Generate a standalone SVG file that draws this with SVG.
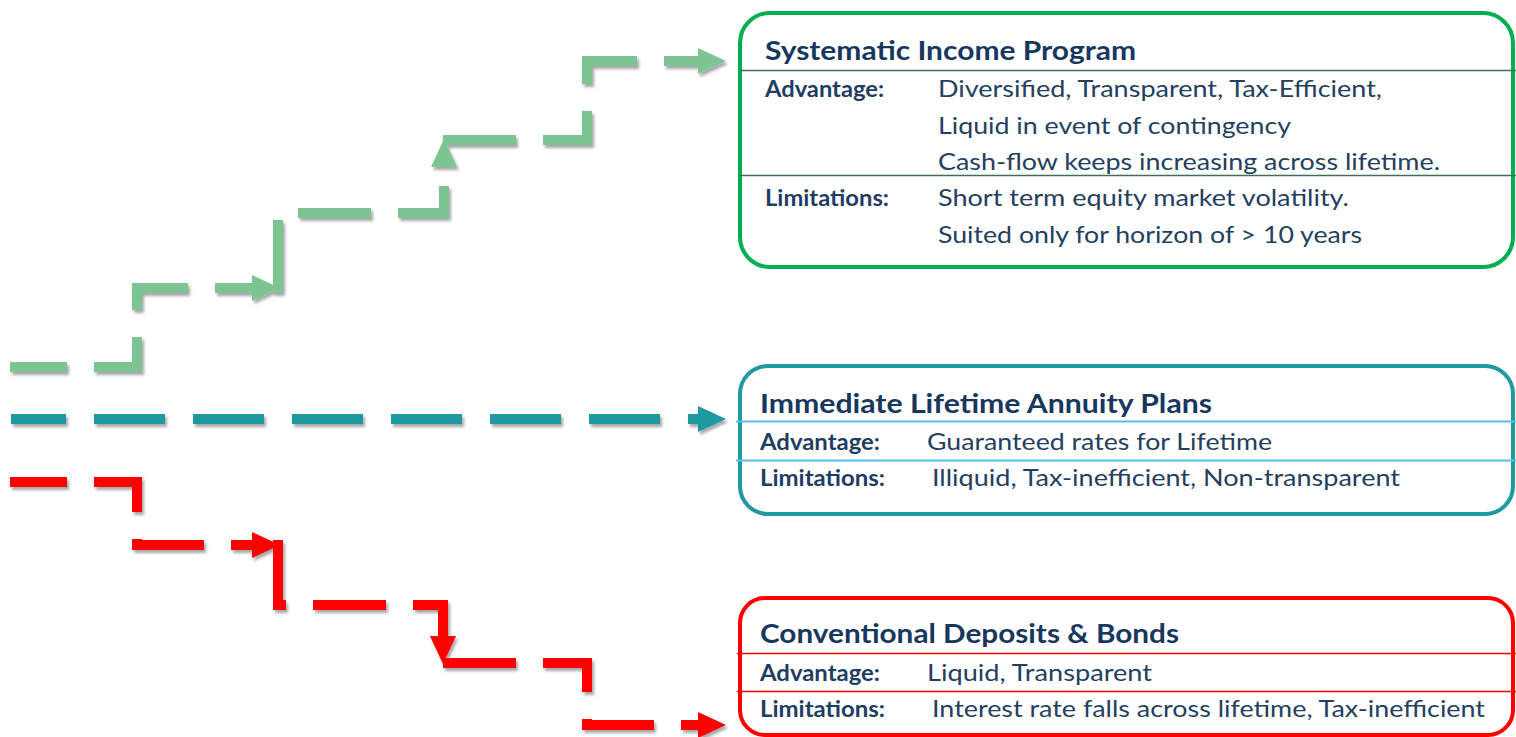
<svg xmlns="http://www.w3.org/2000/svg" width="1516" height="737" viewBox="0 0 1516 737">
  <style>
    .title { font-family: Lato, "Liberation Sans", sans-serif; font-weight: 700; font-size: 26px; fill: #17375E; }
    .label { font-family: Lato, "Liberation Sans", sans-serif; font-weight: 700; font-size: 23px; fill: #1F3D63; }
    .body  { font-family: Lato, "Liberation Sans", sans-serif; font-weight: 400; font-size: 24px; fill: #243F60; }
    .conn  { fill: none; stroke-width: 10; stroke-linecap: butt; stroke-linejoin: miter; }
    .green { stroke: #7CC492; stroke-dasharray: 73 27; }
    .teal  { stroke: #1F9AA0; stroke-dasharray: 71 28; }
    .red   { stroke: #FF0000; stroke-dasharray: 73 27; }
    .lead  { stroke-dashoffset: 16; }
    .box   { fill: #FFFFFF; stroke-width: 4; }
  </style>
  <defs>
    <filter id="shadow" filterUnits="userSpaceOnUse" x="-20" y="-20" width="1560" height="780">
      <feDropShadow dx="2" dy="3" stdDeviation="1.5" flood-color="#000000" flood-opacity="0.35"/>
    </filter>
    <marker id="arrow-green" markerUnits="userSpaceOnUse" markerWidth="28" markerHeight="26" refX="0" refY="13" orient="auto">
      <path d="M0,0 L28,13 L0,26 z" fill="#7CC492"/>
    </marker>
    <marker id="arrow-teal" markerUnits="userSpaceOnUse" markerWidth="28" markerHeight="26" refX="0" refY="13" orient="auto">
      <path d="M0,0 L28,13 L0,26 z" fill="#1F9AA0"/>
    </marker>
    <marker id="arrow-red" markerUnits="userSpaceOnUse" markerWidth="28" markerHeight="26" refX="0" refY="13" orient="auto">
      <path d="M0,0 L28,13 L0,26 z" fill="#FF0000"/>
    </marker>
  </defs>

  <rect width="1516" height="737" fill="#FFFFFF"/>

  <!-- stepped dashed connectors -->
  <g id="connectors" filter="url(#shadow)">
    <path class="conn green lead" d="M 10 367 H 137 V 288 H 252" marker-end="url(#arrow-green)"/>
    <path class="conn green" d="M 278 293 V 213 H 444 V 167" marker-end="url(#arrow-green)"/>
    <path class="conn green" d="M 443 140 H 587 V 61 H 698" marker-end="url(#arrow-green)"/>

    <path class="conn teal lead" d="M 11 419 H 698" marker-end="url(#arrow-teal)"/>

    <path class="conn red lead" d="M 10 482 H 137 V 545 H 252" marker-end="url(#arrow-red)"/>
    <path class="conn red" d="M 278 540 V 605 H 443 V 636" marker-end="url(#arrow-red)"/>
    <path class="conn red" d="M 443 663 H 587 V 725 H 698" marker-end="url(#arrow-red)"/>
  </g>

  <!-- Systematic Income Program -->
  <g id="node-systematic">
    <rect class="box" x="740" y="13" width="773" height="254" rx="30" ry="30" stroke="#00B050"/>
    <line x1="740" y1="70.5" x2="1516" y2="70.5" stroke="#3E6E56" stroke-width="1.6"/>
    <line x1="740" y1="175.5" x2="1516" y2="175.5" stroke="#3E6E56" stroke-width="1.6"/>
    <text class="title" x="765" y="60" textLength="371" lengthAdjust="spacingAndGlyphs">Systematic Income Program</text>
    <text class="label" x="765" y="97" textLength="119" lengthAdjust="spacingAndGlyphs">Advantage:</text>
    <text class="body" x="938" y="97" textLength="444" lengthAdjust="spacingAndGlyphs">Diversified, Transparent, Tax-Efficient,</text>
    <text class="body" x="938" y="134" textLength="353" lengthAdjust="spacingAndGlyphs">Liquid in event of contingency</text>
    <text class="body" x="938" y="170" textLength="502" lengthAdjust="spacingAndGlyphs">Cash-flow keeps increasing across lifetime.</text>
    <text class="label" x="765" y="206" textLength="124" lengthAdjust="spacingAndGlyphs">Limitations:</text>
    <text class="body" x="938" y="206" textLength="411" lengthAdjust="spacingAndGlyphs">Short term equity market volatility.</text>
    <text class="body" x="938" y="243" textLength="424" lengthAdjust="spacingAndGlyphs">Suited only for horizon of &gt; 10 years</text>
  </g>

  <!-- Immediate Lifetime Annuity Plans -->
  <g id="node-annuity">
    <rect class="box" x="740" y="366" width="773" height="148" rx="28" ry="28" stroke="#1F9AA0"/>
    <line x1="736" y1="421.5" x2="1516" y2="421.5" stroke="#56C0EE" stroke-width="2"/>
    <line x1="736" y1="460.5" x2="1516" y2="460.5" stroke="#56C0EE" stroke-width="2"/>
    <text class="title" x="760" y="413" textLength="452" lengthAdjust="spacingAndGlyphs">Immediate Lifetime Annuity Plans</text>
    <text class="label" x="760" y="450" textLength="120" lengthAdjust="spacingAndGlyphs">Advantage:</text>
    <text class="body" x="927" y="450" textLength="345" lengthAdjust="spacingAndGlyphs">Guaranteed rates for Lifetime</text>
    <text class="label" x="760" y="486" textLength="125" lengthAdjust="spacingAndGlyphs">Limitations:</text>
    <text class="body" x="932" y="486" textLength="468" lengthAdjust="spacingAndGlyphs">Illiquid, Tax-inefficient, Non-transparent</text>
  </g>

  <!-- Conventional Deposits & Bonds -->
  <g id="node-conventional">
    <rect class="box" x="740" y="598" width="773" height="137" rx="25" ry="25" stroke="#FF0000"/>
    <line x1="737" y1="653.5" x2="1516" y2="653.5" stroke="#FF0000" stroke-width="1.6"/>
    <line x1="737" y1="691.5" x2="1516" y2="691.5" stroke="#FF0000" stroke-width="1.6"/>
    <text class="title" x="760" y="643" textLength="419" lengthAdjust="spacingAndGlyphs">Conventional Deposits &amp; Bonds</text>
    <text class="label" x="760" y="681" textLength="120" lengthAdjust="spacingAndGlyphs">Advantage:</text>
    <text class="body" x="927" y="681" textLength="225" lengthAdjust="spacingAndGlyphs">Liquid, Transparent</text>
    <text class="label" x="760" y="717" textLength="125" lengthAdjust="spacingAndGlyphs">Limitations:</text>
    <text class="body" x="932" y="717" textLength="553" lengthAdjust="spacingAndGlyphs">Interest rate falls across lifetime, Tax-inefficient</text>
  </g>
</svg>
